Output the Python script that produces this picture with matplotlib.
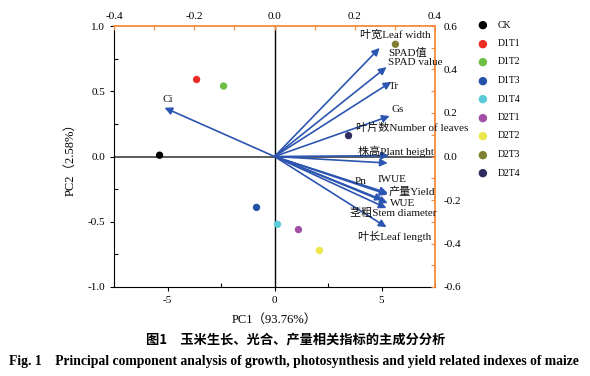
import matplotlib
matplotlib.use("Agg")
import matplotlib.pyplot as plt
from matplotlib.ticker import MultipleLocator

plt.rcParams['font.family'] = ['Liberation Serif', 'Noto Sans CJK SC']
plt.rcParams['axes.unicode_minus'] = False

# Scores (PC1, PC2)
groups = ['CK', 'D1T1', 'D1T2', 'D1T3', 'D1T4', 'D2T1', 'D2T2', 'D2T3', 'D2T4']
pc1 = [-5.37, -3.64, -2.38, -0.84, 0.14, 1.12, 2.10, 5.65, 3.46]
pc2 = [0.01, 0.59, 0.54, -0.39, -0.52, -0.56, -0.72, 0.86, 0.16]
colors = ['#000000', '#EE2A24', '#6CBE45', '#2352A8', '#5BCBD8',
          '#A24FA6', '#EDE64A', '#7F7F32', '#2E2D5E']

# Loadings
variables = ['叶宽Leaf width', 'SPAD值\nSPAD value', 'Tr', 'Gs', '叶片数Number of leaves',
             '株高Plant height', 'Pn', 'IWUE', '产量Yield', 'WUE',
             '茎粗Stem diameter', '叶长Leaf length', 'Ci']
load_x = [0.262, 0.279, 0.291, 0.287, 0.285, 0.282, 0.270, 0.282, 0.282, 0.282, 0.279, 0.279, -0.274]
load_y = [0.499, 0.411, 0.343, 0.186, 0.004, -0.030, -0.200, -0.175, -0.168, -0.214, -0.237, -0.325, 0.224]
label_x = [0.212, 0.284, 0.284, 0.292, 0.204, 0.207, 0.200, 0.257, 0.284, 0.287, 0.187, 0.207, -0.279]
label_y = [0.563, 0.455, 0.324, 0.214, 0.131, 0.025, -0.113, -0.108, -0.163, -0.218, -0.260, -0.366, 0.264]

fig = plt.figure(figsize=(5.9, 3.76), dpi=100)
pos = [114/590, 1-287/376, (435-114)/590, (287-26)/376]
ax = fig.add_axes(pos)
ax2 = fig.add_axes(pos, frameon=False)

orange = '#F7893B'
arrow_c = '#2B55B0'

# Score axes
ax.set_xlim(-7.5, 7.5)
ax.set_ylim(-1.0, 1.0)
ax.axhline(0, color='#404040', lw=1.2, zorder=1)
ax.axvline(0, color='black', lw=1.0, zorder=1)
for x, y, c in zip(pc1, pc2, colors):
    ax.scatter(x, y, s=28, color=c, zorder=5, edgecolors='none')
ax.xaxis.set_major_locator(MultipleLocator(5))
ax.xaxis.set_minor_locator(MultipleLocator(2.5))
ax.yaxis.set_major_locator(MultipleLocator(0.5))
ax.yaxis.set_minor_locator(MultipleLocator(0.25))
ax.yaxis.set_major_formatter(matplotlib.ticker.FormatStrFormatter('%.1f'))
ax.tick_params(which='major', direction='out', length=3, labelsize=8, width=0.8)
ax.tick_params(which='minor', direction='in', length=3, width=0.8)
ax.spines['top'].set_visible(False)
ax.spines['right'].set_visible(False)
ax.set_xlabel('PC1（93.76%）', fontsize=9, labelpad=6)
ax.set_ylabel('PC2（2.58%）', fontsize=9, labelpad=8)

# Loading axes
ax2.set_xlim(-0.4, 0.4)
ax2.set_ylim(-0.6, 0.6)
ax2.xaxis.tick_top()
ax2.yaxis.tick_right()
ax2.xaxis.set_major_locator(MultipleLocator(0.2))
ax2.xaxis.set_minor_locator(MultipleLocator(0.1))
ax2.yaxis.set_major_locator(MultipleLocator(0.2))
ax2.yaxis.set_minor_locator(MultipleLocator(0.1))
ax2.xaxis.set_major_formatter(matplotlib.ticker.FormatStrFormatter('%.1f'))
ax2.yaxis.set_major_formatter(matplotlib.ticker.FormatStrFormatter('%.1f'))
ax2.tick_params(which='both', direction='in', length=3, color=orange, labelsize=8, width=0.8)
ax2.tick_params(axis='y', pad=6)
ax2.plot([0, 1], [1, 1], transform=ax2.transAxes, color=orange, lw=1.3, clip_on=False)
ax2.plot([1, 1], [0, 1], transform=ax2.transAxes, color=orange, lw=1.3, clip_on=False)
ax2.patch.set_visible(False)

for lx, ly, tx, ty, name in zip(load_x, load_y, label_x, label_y, variables):
    ax2.annotate('', xy=(lx, ly), xytext=(0, 0),
                 arrowprops=dict(arrowstyle='-|>', color=arrow_c, lw=1.2,
                                 mutation_scale=11, shrinkA=0, shrinkB=0), zorder=3)
    ax2.text(tx, ty, name, fontsize=8, ha='left', va='center', color='#111111',
             linespacing=0.95, clip_on=False, zorder=4)

# Legend
for i, (g, c) in enumerate(zip(groups, colors)):
    yy = 1 - (25 + i*18.5)/376
    fig.text(482/590, yy, '●', color=c, fontsize=8, ha='center', va='center',
             family='DejaVu Sans')
    fig.text(498/590, yy, g, fontsize=7, ha='left', va='center')

# Caption
fig.text(296/590, 1-339/376, '图1　玉米生长、光合、产量相关指标的主成分分析',
         fontsize=9.5, ha='center', va='center', fontweight='bold',
         family=['Noto Sans CJK SC'])
fig.text(294/590, 1-361/376,
         'Fig. 1    Principal component analysis of growth, photosynthesis and yield related indexes of maize',
         fontsize=9.8, ha='center', va='center', fontweight='bold')

fig.savefig('out.png', dpi=100)
